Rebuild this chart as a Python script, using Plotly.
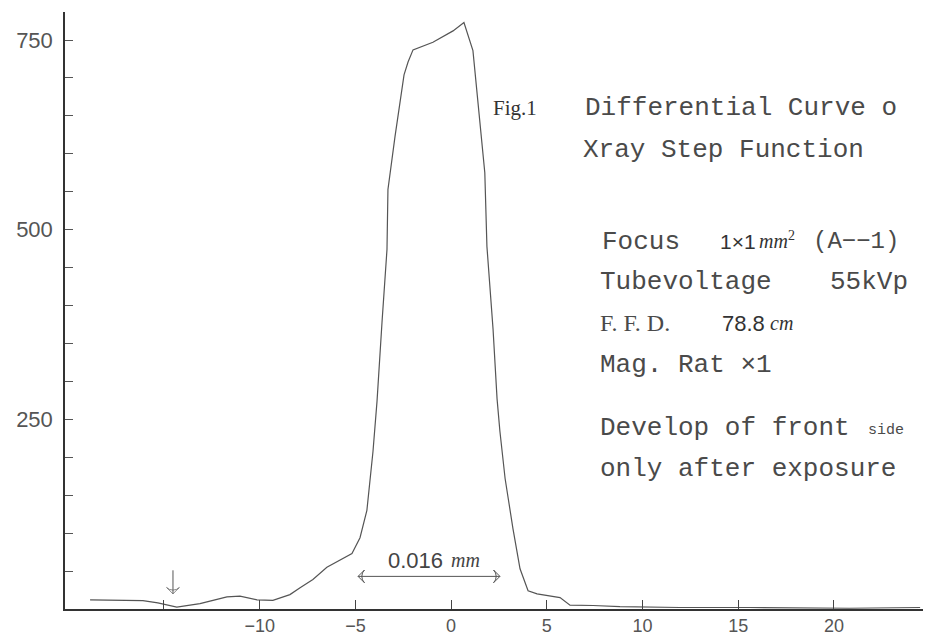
import plotly.graph_objects as go

# ---- data ----
pos_x = [-18.86, -16.10, -15.32, -14.33, -13.12, -11.71, -11.03, -10.14, -9.31, -8.42,
         -7.89, -7.22, -6.49, -5.81, -5.18, -4.76, -4.40, -4.08, -3.87, -3.61,
         -3.35, -3.30, -2.93, -2.46, -2.25, -1.99, -0.95, 0.10, 0.67, 1.14,
         1.50, 1.76, 1.87, 2.19, 2.40, 2.55, 2.82, 3.23, 3.60, 4.02,
         4.49, 5.69, 6.21, 7.41, 8.82, 11.95, 15.6, 20.8, 24.5]
density = [12, 11, 8, 2.5, 7, 16, 17, 12, 11.5, 19,
           28, 39, 55, 64, 73, 94, 130, 208, 274, 378,
           474, 553, 623, 704, 721, 737, 747, 762, 773, 736,
           648, 575, 478, 369, 277, 234, 172, 106, 53, 24,
           20, 15, 5, 4.6, 3, 2, 2, 1, 2]

x_tick_vals = [-10, -5, 0, 5, 10, 15, 20]
x_tick_text = ["\u221210", "\u22125", "0", "5", "10", "15", "20"]
x_minor_vals = [-15]
y_tick_vals = [250, 500, 750]
y_tick_text = ["250", "500", "750"]
y_minor_step = 50

span_x = [-4.86, 2.55]
span_y = [43, 43]
marker_x = [-14.53, -14.53]
marker_y = [51, 20]

W, H = 929, 637
L, R, T, B = 65, 6, 12, 28
PW, PH = W - L - R, H - T - B


def px(x, y):
    return (x - L) / PW, (H - B - y) / PH


ink = "#4a4a4a"
mono = "Liberation Mono"
sans = "Liberation Sans"
serif = "Liberation Serif"

fig = go.Figure()
fig.add_trace(go.Scatter(x=pos_x, y=density, mode="lines",
                         line=dict(color="#555555", width=1.2),
                         hoverinfo="skip", showlegend=False))
# double arrow marking the 0.016 mm span
fig.add_trace(go.Scatter(x=span_x, y=span_y, mode="lines+markers",
                         line=dict(color="#555", width=1),
                         marker=dict(symbol="arrow-wide-open", size=9, angle=[-90, 90],
                                     color="#555", line=dict(color="#555", width=1)),
                         hoverinfo="skip", showlegend=False))
# small downward arrow
fig.add_trace(go.Scatter(x=marker_x, y=marker_y, mode="lines+markers",
                         line=dict(color="#555", width=1),
                         marker=dict(symbol=["circle", "arrow-wide-open"], size=[0, 9],
                                     angle=[0, 180], color="#555",
                                     line=dict(color="#555", width=1)),
                         hoverinfo="skip", showlegend=False))

ann = []


def txt(s, x, y, font=mono, size=26, color=ink):
    xp, yp = px(x, y)
    ann.append(dict(text=s, x=xp, y=yp, xref="paper", yref="paper",
                    xanchor="left", yanchor="middle", showarrow=False,
                    font=dict(family=font, size=size, color=color)))


txt("Fig.1", 491, 108, font=serif, size=21, color="#333")
txt("Differential Curve o", 583, 108)
txt("Xray Step Function", 581, 150)
txt("Focus", 600, 242)
txt("1\u00d71", 718, 242, font=sans, size=21, color="#333")
txt("<i>mm</i><sup>2</sup>", 757, 240, font=serif, size=20, color="#333")
txt("(A\u2212\u22121)", 811, 242, size=24)
txt("Tubevoltage", 598, 282)
txt("55kVp", 828, 282)
txt("F. F. D.", 598, 323, font=serif, size=24)
txt("78.8", 720, 323, font=sans, size=22, color="#333")
txt("<i>cm</i>", 768, 323, font=serif, size=20, color="#333")
txt("Mag. Rat \u00d71", 598, 365)
txt("Develop of front", 598, 428)
txt("side", 866, 430, size=15)
txt("only after exposure", 598, 469)
txt("0.016", 386, 560, font=sans, size=22, color="#444")
txt("<i>mm</i>", 449, 560, font=serif, size=20, color="#444")

fig.update_layout(
    width=W, height=H,
    margin=dict(l=L, r=R, t=T, b=B, pad=0, autoexpand=False),
    paper_bgcolor="white", plot_bgcolor="white",
    annotations=ann,
    xaxis=dict(range=[-20.17, 24.65], tickvals=x_tick_vals, ticktext=x_tick_text,
               ticks="inside", ticklen=9, tickcolor="#444", tickwidth=1,
               minor=dict(tickvals=x_minor_vals, ticks="inside", ticklen=9,
                          tickcolor="#444", tickwidth=1, showgrid=False),
               showline=True, linecolor="#333", linewidth=1.5, automargin=False,
               showgrid=False, zeroline=False, ticklabelstandoff=0,
               tickfont=dict(family=sans, size=18, color="#555")),
    yaxis=dict(range=[0, 786.9], tickvals=y_tick_vals, ticktext=y_tick_text,
               ticks="inside", ticklen=8, tickcolor="#555", tickwidth=1,
               minor=dict(dtick=y_minor_step, tick0=0, ticks="inside", ticklen=8,
                          tickcolor="#555", tickwidth=1, showgrid=False),
               showline=True, linecolor="#333", linewidth=1.5, automargin=False,
               showgrid=False, zeroline=False, ticklabelstandoff=6,
               tickfont=dict(family=sans, size=22, color="#555")),
)
fig.write_html("out.html")
